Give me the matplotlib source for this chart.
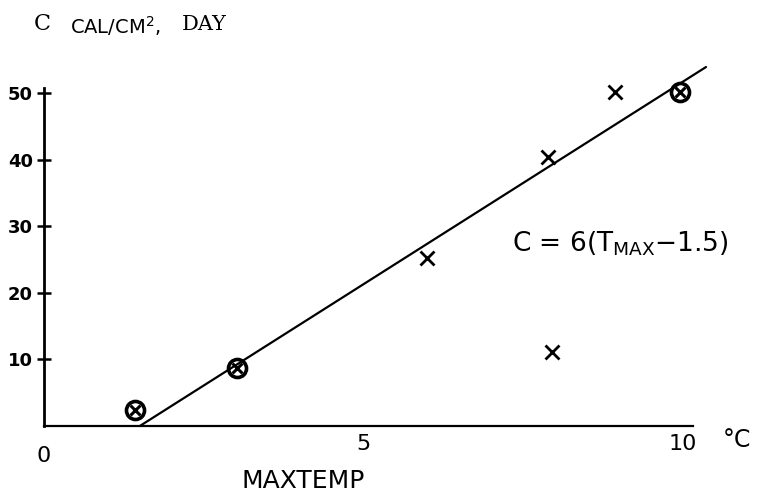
import matplotlib
matplotlib.use('Agg')
import matplotlib.pyplot as plt
from matplotlib.transforms import ScaledTranslation

# measured points (x = single cross, circled = double-checked points)
cross_t = [5.99, 7.89, 8.94, 7.95]
cross_c = [25.2, 40.4, 50.2, 11.1]
circ_t = [1.42, 3.02, 9.95]
circ_c = [2.4, 8.7, 50.2]

# hand drawn fit line C = 6(Tmax - 1.5)
fit_t = [1.5, 10.36]
fit_c = [0.0, 53.9]

y_ticks = [10, 20, 30, 40, 50]
x_ticks = [0, 5, 10]
x_labels = ['0', '5', '10']

W, H = 757, 495
fig = plt.figure(figsize=(W / 100, H / 100), dpi=100)
ax = fig.add_axes([0, 0, 1, 1])

# pixel mapping: x=0 at px 44, 63.9 px per degree; y=0 at px 426 from top, 6.66 px per unit
ax.set_xlim(-44 / 63.9, (W - 44) / 63.9)
ax.set_ylim(-(H - 426) / 6.66, 426 / 6.66)

for s in ['top', 'right']:
    ax.spines[s].set_visible(False)
ax.spines['left'].set_position(('data', 0))
ax.spines['bottom'].set_position(('data', 0))
ax.spines['left'].set_bounds(0, 50.8)
ax.spines['bottom'].set_bounds(0, 10.16)
ax.spines['left'].set_linewidth(2.0)
ax.spines['bottom'].set_linewidth(1.6)

ax.set_yticks(y_ticks)
ax.set_yticklabels([str(v) for v in y_ticks], fontsize=13, fontweight='bold')
ax.tick_params(axis='y', direction='inout', length=10, width=1.8, pad=3)

ax.set_xticks(x_ticks)
ax.set_xticklabels(x_labels, fontsize=16)
ax.tick_params(axis='x', length=0, pad=6)
# the "0" is written a bit lower in the original
lbl0 = ax.get_xticklabels()[0]
lbl0.set_transform(lbl0.get_transform() + ScaledTranslation(0, -12 / 100, fig.dpi_scale_trans))

ax.plot(fit_t, fit_c, color='black', lw=1.6, solid_capstyle='round')
ax.plot(cross_t, cross_c, linestyle='none', marker='x', color='black',
        markersize=10, markeredgewidth=2)
ax.plot(circ_t, circ_c, linestyle='none', marker='o', markerfacecolor='none',
        markeredgecolor='black', markersize=13, markeredgewidth=2.6)
ax.plot(circ_t, circ_c, linestyle='none', marker='x', color='black',
        markersize=7, markeredgewidth=2.2)

ax.text(7.32, 27.3, 'C = 6(T$_{\\mathregular{MAX}}$$-$1.5)', fontsize=19,
        ha='left', va='center')

# axis titles
fig.text(42 / W, 1 - 24 / H, 'C', fontsize=16, family='DejaVu Serif',
         ha='center', va='center')
fig.text(70 / W, 1 - 26 / H, 'CAL/CM$^2$,', fontsize=14, ha='left', va='center')
fig.text(204 / W, 1 - 24 / H, 'DAY', fontsize=15, family='DejaVu Serif',
         ha='center', va='center')
fig.text(737 / W, 1 - 440 / H, '°C', fontsize=17, ha='center', va='center')
fig.text(303 / W, 1 - 481 / H, 'MAXTEMP', fontsize=18, ha='center', va='center')

fig.savefig('out.png', dpi=100)
